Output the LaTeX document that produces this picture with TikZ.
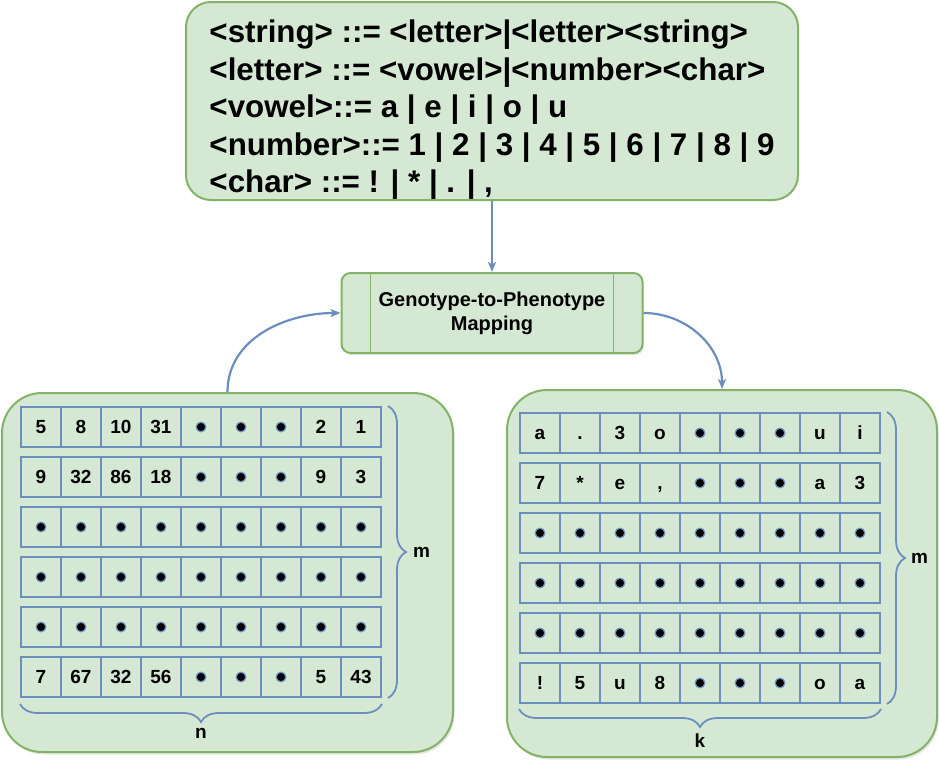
\documentclass[tikz,border=0pt]{standalone}
\usepackage{fontspec}
\setmainfont{Liberation Sans}
\usepackage{tikz}
\usetikzlibrary{positioning}
\usetikzlibrary{arrows.meta}
\usetikzlibrary{decorations.pathreplacing,shadows}
\definecolor{boxgreen}{HTML}{D5E8D4}
\definecolor{edgegreen}{HTML}{82B366}
\definecolor{cellblue}{HTML}{6C8EBF}
\tikzset{green box/.style={draw=edgegreen,fill=boxgreen,line width=2pt},
  grammar box/.style={green box,rounded corners=25pt,minimum width=612pt,minimum height=198pt,align=left,inner sep=0pt,text height=190pt,font=\fontsize{31.3}{37.5}\selectfont\bfseries},
  map box/.style={green box,rounded corners=9pt,minimum width=301pt,minimum height=80pt,align=center,inner sep=0pt,font=\fontsize{20}{24}\selectfont\bfseries,drop shadow={opacity=0.2,shadow xshift=1.5pt,shadow yshift=-2pt}},
  grid box/.style={green box,rounded corners=40pt,drop shadow={opacity=0.2,shadow xshift=1.5pt,shadow yshift=-2.5pt}},
  grid cell/.style={draw=cellblue,fill=boxgreen,line width=2pt,minimum width=40pt,minimum height=40pt,inner sep=0pt,font=\fontsize{19}{19}\selectfont\bfseries,text height=13.7pt,text depth=0pt},
  brace line/.style={draw=cellblue,line width=1.8pt,decorate,decoration={brace,amplitude=18pt}},
  flow/.style={draw=cellblue,line width=2.2pt,-{Stealth[length=10pt,width=8pt,inset=2.5pt]}},
  map line/.style={draw=edgegreen,line width=1.4pt}}
\newcommand{\gdot}{\tikz[baseline=-6.85pt]\filldraw[fill=black,draw=cellblue,line width=1.2pt] (0,0) circle (4.8pt);}

\begin{document}
\begin{tikzpicture}[x=1pt,y=-1pt]
    \useasboundingbox (0,0) rectangle (939,763);
    \node[grammar box] (grammar) at (492,101) {<string> ::= <letter>|<letter><string>\\<letter> ::= <vowel>|<number><char>\\<vowel>::= a | e | i | o | u\\<number>::= 1 | 2 | 3 | 4 | 5 | 6 | 7 | 8 | 9\\<char> ::= ! | * | . | ,};
    \node[map box] (mapping) [below = 71pt of grammar] {Genotype-to-Phenotype\\Mapping};
    \draw[map line] ([xshift=30pt]mapping.north west) -- ([xshift=30pt]mapping.south west);
    \draw[map line] ([xshift=-30pt]mapping.north east) -- ([xshift=-30pt]mapping.south east);

    \node[grid box, minimum width=451pt, minimum height=359pt] (genotype) at (227.5,572.5) {};
    \node[grid box, minimum width=430pt, minimum height=367pt] (phenotype) at (722,573.5) {};

    % genotype grid (numbers)
    \foreach \rowlist [count=\r] in {{5,8,10,31,\gdot,\gdot,\gdot,2,1},{9,32,86,18,\gdot,\gdot,\gdot,9,3},
        {\gdot,\gdot,\gdot,\gdot,\gdot,\gdot,\gdot,\gdot,\gdot},{\gdot,\gdot,\gdot,\gdot,\gdot,\gdot,\gdot,\gdot,\gdot},
        {\gdot,\gdot,\gdot,\gdot,\gdot,\gdot,\gdot,\gdot,\gdot},{7,67,32,56,\gdot,\gdot,\gdot,5,43}}
        \foreach \v [count=\c] in \rowlist
            \node[grid cell] (L-\r-\c) at ({41+40*(\c-1)},{427+50*(\r-1)}) {\v};

    % phenotype grid (symbols)
    \foreach \rowlist [count=\r] in {{a,.,3,o,\gdot,\gdot,\gdot,u,i},{7,*,e,{,},\gdot,\gdot,\gdot,a,3},
        {\gdot,\gdot,\gdot,\gdot,\gdot,\gdot,\gdot,\gdot,\gdot},{\gdot,\gdot,\gdot,\gdot,\gdot,\gdot,\gdot,\gdot,\gdot},
        {\gdot,\gdot,\gdot,\gdot,\gdot,\gdot,\gdot,\gdot,\gdot},{!,5,u,8,\gdot,\gdot,\gdot,o,a}}
        \foreach \v [count=\c] in \rowlist
            \node[grid cell] (R-\r-\c) at ({540+40*(\c-1)},{433+50*(\r-1)}) {\v};

    \draw[brace line] ([xshift=6pt]L-1-9.north east) -- ([xshift=6pt]L-6-9.south east)
        node[midway, right=21pt, font=\fontsize{19}{19}\selectfont\bfseries] {m};
    \draw[brace line] ([yshift=-6pt]L-6-9.south east) -- ([yshift=-6pt]L-6-1.south west)
        node[midway, below=20pt, font=\fontsize{19}{19}\selectfont\bfseries] {n};
    \draw[brace line] ([xshift=6pt]R-1-9.north east) -- ([xshift=6pt]R-6-9.south east)
        node[midway, right=20pt, font=\fontsize{19}{19}\selectfont\bfseries] {m};
    \draw[brace line] ([yshift=-5pt]R-6-9.south east) -- ([yshift=-5pt]R-6-1.south west)
        node[midway, below=20pt, font=\fontsize{19}{19}\selectfont\bfseries] {k};

    \path
    (grammar) edge [flow] (mapping)
    (genotype.north) edge [flow, out=90, in=180] (mapping.west)
    (mapping.east) edge [flow, out=0, in=90] (phenotype.north);
\end{tikzpicture}
\end{document}
